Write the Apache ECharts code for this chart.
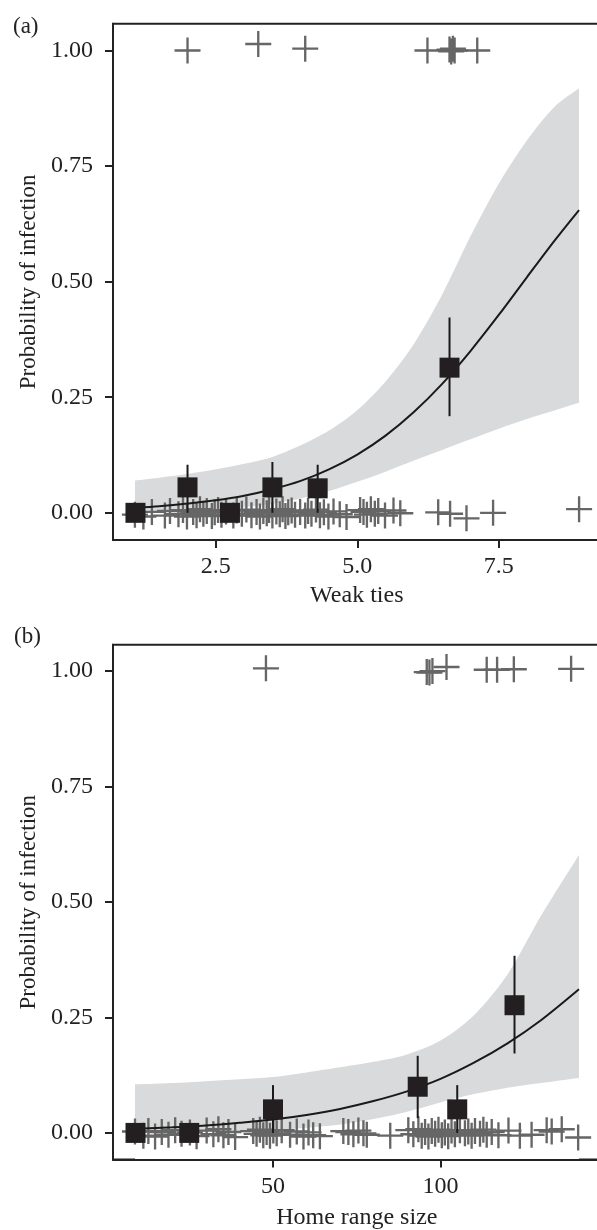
<!DOCTYPE html>
<html>
<head>
<meta charset="utf-8">
<script src="https://cdn.jsdelivr.net/npm/echarts@6/dist/echarts.min.js"></script>
<style>
  html, body { margin: 0; padding: 0; background: #fff; }
  #main { width: 597px; height: 1230px; }
</style>
</head>
<body>
<div id="main"></div>
<script>
// tick labels
const weakTiesTicks = [2.5, 5.0, 7.5];
const homeRangeTicks = [50, 100];
const probTicks = [0, 0.25, 0.5, 0.75, 1];

// (a) weak ties: fitted curve and its ribbon
const weakFitX = [1.072, 1.5, 2, 2.5, 3, 3.5, 4, 4.5, 5, 5.5, 6, 6.5, 7, 7.5, 8, 8.5, 8.919];
const weakFitP = [0.011, 0.014, 0.020, 0.027, 0.037, 0.051, 0.069, 0.094, 0.126, 0.167, 0.218, 0.279, 0.350, 0.428, 0.510, 0.591, 0.655];
const weakFitLo = [0.002, 0.003, 0.004, 0.006, 0.012, 0.020, 0.031, 0.047, 0.067, 0.089, 0.113, 0.136, 0.159, 0.182, 0.203, 0.222, 0.238];
const weakFitHi = [0.070, 0.076, 0.084, 0.094, 0.106, 0.121, 0.146, 0.178, 0.222, 0.284, 0.365, 0.472, 0.598, 0.712, 0.806, 0.880, 0.918];

// (a) binned means with intervals
const weakBinX = [1.08, 2.0, 2.75, 3.5, 4.3, 6.63];
const weakBinP = [0, 0.055, 0, 0.055, 0.053, 0.314];
const weakBinLo = [0, 0, 0, 0, 0, 0.209];
const weakBinHi = [0, 0.104, 0, 0.110, 0.104, 0.4225];

// (a) raw observations (jittered)
const weakRawOnes = [
  [2.0, 1.0], [3.25, 1.014], [4.08, 1.004], [6.24, 1.0], [6.63, 1.002],
  [6.66, 0.998], [6.69, 1.004], [6.72, 1.0], [7.12, 1.0]
];
const weakRawZeros = [
  [1.07, -0.004], [1.22, -0.008], [1.37, 0.002], [1.60, -0.006], [1.69, 0.004],
  [1.84, -0.003], [1.92, 0.006], [1.99, -0.008], [2.10, 0.002], [2.16, -0.005],
  [2.22, 0.008], [2.28, -0.002], [2.34, 0.004], [2.43, -0.007], [2.48, 0.001],
  [2.54, 0.006], [2.60, -0.004], [2.68, 0.003], [2.81, -0.006], [2.87, 0.005],
  [2.96, -0.002], [3.04, 0.007], [3.13, -0.005], [3.22, 0.002], [3.28, -0.008],
  [3.34, 0.004], [3.40, -0.001], [3.44, 0.006], [3.50, -0.006], [3.57, 0.003],
  [3.63, -0.003], [3.68, 0.008], [3.73, -0.007], [3.78, 0.001], [3.84, 0.005],
  [3.90, -0.004], [3.99, 0.002], [4.08, -0.006], [4.13, 0.004], [4.19, -0.002],
  [4.27, 0.007], [4.34, -0.005], [4.41, 0.001], [4.49, -0.008], [4.58, 0.003],
  [4.69, -0.003], [4.81, -0.009], [5.05, 0.006], [5.11, 0.002], [5.17, -0.004],
  [5.24, 0.008], [5.31, -0.002], [5.37, 0.004], [5.49, -0.006], [5.64, 0.005],
  [5.76, -0.001], [6.43, 0.001], [6.64, -0.002], [6.93, -0.012], [7.40, 0.0],
  [8.92, 0.008]
];

// (b) home range size: fitted curve and its ribbon
const homeFitX = [8.81, 20, 30, 40, 50, 60, 70, 80, 90, 100, 110, 120, 130, 141.34];
const homeFitP = [0.009, 0.012, 0.016, 0.022, 0.029, 0.039, 0.052, 0.069, 0.090, 0.117, 0.152, 0.194, 0.244, 0.311];
const homeFitLo = [0.001, 0.002, 0.003, 0.004, 0.006, 0.011, 0.018, 0.030, 0.046, 0.066, 0.084, 0.098, 0.108, 0.119];
const homeFitHi = [0.105, 0.108, 0.112, 0.116, 0.121, 0.131, 0.142, 0.154, 0.170, 0.200, 0.255, 0.343, 0.470, 0.602];

// (b) binned means with intervals
const homeBinX = [8.96, 25.0, 50.0, 93.2, 105.0, 122.1];
const homeBinP = [0, 0, 0.051, 0.100, 0.051, 0.2765];
const homeBinLo = [0, 0, 0, 0.032, 0, 0.172];
const homeBinHi = [0, 0, 0.1035, 0.167, 0.1035, 0.3836];

// (b) raw observations (jittered)
const homeRawOnes = [
  [47.9, 1.006], [95.9, 0.998], [96.7, 0.997], [97.6, 1.0], [101.8, 1.009],
  [113.8, 1.003], [116.9, 1.003], [121.9, 1.004], [139.0, 1.005]
];
const homeRawZeros = [
  [8.8, 0.003], [11.3, -0.006], [12.8, 0.004], [14.8, -0.008], [16.8, 0.002],
  [18.8, -0.004], [20.8, 0.006], [22.7, -0.002], [25.2, 0.001], [27.2, -0.007],
  [30.2, 0.005], [32.2, -0.003], [33.7, 0.008], [35.2, -0.005], [36.7, 0.002],
  [38.7, -0.009], [44.1, 0.004], [45.1, -0.002], [46.1, 0.007], [47.1, -0.005],
  [48.1, 0.002], [49.1, -0.006], [50.1, 0.005], [51.1, -0.001], [52.6, 0.006],
  [55.1, -0.004], [57.1, 0.003], [59.1, -0.008], [60.6, 0.001], [62.0, -0.005],
  [64.0, -0.007], [71.0, 0.004], [72.5, 0.002], [74.0, -0.003], [75.5, 0.005],
  [77.0, -0.001], [78.0, -0.004], [85.0, -0.006], [90.4, 0.006], [91.9, -0.003],
  [93.4, 0.008], [94.4, -0.006], [95.4, 0.002], [96.4, -0.008], [97.4, 0.004],
  [98.4, -0.002], [99.4, 0.007], [100.4, -0.005], [101.3, 0.001], [102.3, -0.007],
  [103.3, 0.005], [104.3, -0.003], [105.8, 0.006], [107.3, -0.001], [108.3, 0.003],
  [109.3, -0.006], [110.3, 0.004], [111.8, -0.002], [112.8, 0.007], [113.8, -0.004],
  [115.3, 0.002], [117.3, -0.005], [120.3, 0.005], [123.7, -0.006], [127.2, -0.004],
  [131.7, 0.006], [133.2, 0.003], [136.2, 0.008], [141.1, -0.01]
];

const FONT = 'Liberation Serif';
const INK = '#222';
const CROSS = 'path://M0,9.1H20V10.9H0Z M9.1,0H10.9V20H9.1Z';

function xAxisFor(grid, name, min, max, ticks, digits, gap) {
  return {
    gridIndex: grid, type: 'value', min: min, max: max, z: 10,
    name: name, nameLocation: 'middle', nameGap: gap,
    nameTextStyle: { fontFamily: FONT, fontSize: 24, color: INK },
    axisLine: { show: true, onZero: false, lineStyle: { color: INK, width: 2 } },
    axisTick: { show: true, length: 8, customValues: ticks, lineStyle: { color: INK, width: 2 } },
    axisLabel: { customValues: ticks, margin: 15, fontFamily: FONT, fontSize: 24, color: INK,
      formatter: v => v.toFixed(digits) },
    splitLine: { show: false }
  };
}

function yAxisFor(grid, min, max) {
  return {
    gridIndex: grid, type: 'value', min: min, max: max, z: 10,
    name: 'Probability of infection', nameLocation: 'middle', nameGap: 73,
    nameTextStyle: { fontFamily: FONT, fontSize: 23, color: INK },
    axisLine: { show: true, onZero: false, lineStyle: { color: INK, width: 2 } },
    axisTick: { show: true, length: 8, customValues: probTicks, lineStyle: { color: INK, width: 2 } },
    axisLabel: { customValues: probTicks, margin: 20, fontFamily: FONT, fontSize: 24, color: INK,
      formatter: v => v.toFixed(2) },
    splitLine: { show: false }
  };
}

// ribbon: grey area under the upper bound, then white area under the lower bound
function bandSeries(idx, xs, lo, hi) {
  const common = {
    type: 'line', xAxisIndex: idx, yAxisIndex: idx, silent: true, z: 1,
    showSymbol: false, smooth: 0.3, lineStyle: { opacity: 0 }
  };
  return [
    Object.assign({}, common, {
      data: xs.map((x, i) => [x, hi[i]]),
      areaStyle: { color: '#d9dadb', opacity: 1, origin: 'start' }
    }),
    Object.assign({}, common, {
      data: xs.map((x, i) => [x, lo[i]]),
      areaStyle: { color: '#fff', opacity: 1, origin: 'start' }
    })
  ];
}

function rawSeries(idx, pts) {
  return {
    type: 'scatter', xAxisIndex: idx, yAxisIndex: idx, silent: true, z: 2,
    data: pts, symbol: CROSS, symbolSize: 26,
    itemStyle: { color: '#666', opacity: 1 }
  };
}

function fitSeries(idx, xs, ps) {
  return {
    type: 'line', xAxisIndex: idx, yAxisIndex: idx, silent: true, z: 3,
    data: xs.map((x, i) => [x, ps[i]]), showSymbol: false, smooth: 0.3,
    lineStyle: { color: '#1a1a1a', width: 2 }
  };
}

function errorSeries(idx, xs, lo, hi) {
  return {
    type: 'custom', xAxisIndex: idx, yAxisIndex: idx, silent: true, z: 4,
    data: xs.map((x, i) => [x, lo[i], hi[i]]),
    encode: { x: 0, y: [1, 2] },
    renderItem: function (params, api) {
      const a = api.coord([api.value(0), api.value(1)]);
      const b = api.coord([api.value(0), api.value(2)]);
      return { type: 'line', shape: { x1: a[0], y1: a[1], x2: b[0], y2: b[1] },
        style: { stroke: '#1a1a1a', lineWidth: 2 } };
    }
  };
}

function binSeries(idx, xs, ps) {
  return {
    type: 'scatter', xAxisIndex: idx, yAxisIndex: idx, silent: true, z: 5,
    data: xs.map((x, i) => [x, ps[i]]), symbol: 'rect', symbolSize: 20,
    itemStyle: { color: '#231f20', opacity: 1 }
  };
}

const chart = echarts.init(document.getElementById('main'));

const option = {
  backgroundColor: '#fff',
  animation: false,
  title: [
    { text: '(a)', left: 8, top: 10, textStyle: { fontFamily: FONT, fontSize: 23, fontWeight: 'normal', color: INK } },
    { text: '(b)', left: 9, top: 620, textStyle: { fontFamily: FONT, fontSize: 23, fontWeight: 'normal', color: INK } }
  ],
  grid: [
    { left: 113, top: 23.7, width: 487.6, height: 516.4, show: true, borderColor: INK, borderWidth: 2,
      backgroundColor: 'transparent', outerBoundsMode: 'none' },
    { left: 113, top: 644.8, width: 487.6, height: 514.8, show: true, borderColor: INK, borderWidth: 2,
      backgroundColor: 'transparent', outerBoundsMode: 'none' }
  ],
  xAxis: [
    xAxisFor(0, 'Weak ties', 0.683, 9.30, weakTiesTicks, 1, 44),
    xAxisFor(1, 'Home range size', 2.24, 147.8, homeRangeTicks, 0, 46)
  ],
  yAxis: [
    yAxisFor(0, -0.059, 1.058),
    yAxisFor(1, -0.0578, 1.057)
  ],
  series: [
    ...bandSeries(0, weakFitX, weakFitLo, weakFitHi),
    rawSeries(0, weakRawZeros),
    rawSeries(0, weakRawOnes),
    fitSeries(0, weakFitX, weakFitP),
    errorSeries(0, weakBinX, weakBinLo, weakBinHi),
    binSeries(0, weakBinX, weakBinP),

    ...bandSeries(1, homeFitX, homeFitLo, homeFitHi),
    rawSeries(1, homeRawZeros),
    rawSeries(1, homeRawOnes),
    fitSeries(1, homeFitX, homeFitP),
    errorSeries(1, homeBinX, homeBinLo, homeBinHi),
    binSeries(1, homeBinX, homeBinP)
  ]
};

chart.setOption(option);
</script>
</body>
</html>
